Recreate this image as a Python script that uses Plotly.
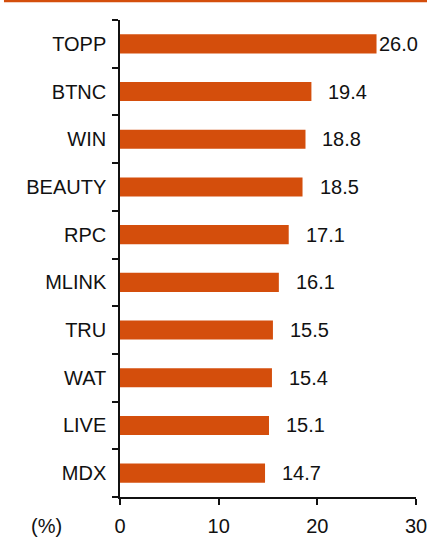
import plotly.graph_objects as go

categories = ["TOPP", "BTNC", "WIN", "BEAUTY", "RPC", "MLINK", "TRU", "WAT", "LIVE", "MDX"]
values = [26.0, 19.4, 18.8, 18.5, 17.1, 16.1, 15.5, 15.4, 15.1, 14.7]
x_ticks = [0, 10, 20, 30]
unit_label = "(%)"

BAR = "#D44E0C"
FONT = dict(family="Liberation Sans, Arial, sans-serif", size=20, color="#111111")

fig = go.Figure()
fig.add_trace(go.Bar(
    x=values, y=categories, orientation="h",
    marker=dict(color=BAR, line=dict(width=0)),
    width=0.4, hoverinfo="skip",
))

annotations = []
for c, v in zip(categories, values):
    annotations.append(dict(
        x=v, y=c, xref="x", yref="y", text=f"{v:.1f}", showarrow=False,
        xanchor="left", yanchor="middle", xshift=0 if v > 25 else 15,
        font=FONT,
    ))
annotations.append(dict(
    x=-0.25, y=0, xref="paper", yref="paper", text=unit_label, showarrow=False,
    xanchor="center", yanchor="middle", yshift=-29, borderpad=0, font=FONT,
))

fig.update_layout(
    width=427, height=537,
    margin=dict(l=120, r=11, t=20, b=40, autoexpand=False),
    paper_bgcolor="white", plot_bgcolor="white",
    showlegend=False,
    font=FONT,
    bargap=0.6,
    annotations=annotations,
    shapes=[dict(type="line", xref="paper", yref="paper",
                 x0=-0.392, x1=1.05, y0=1.0398, y1=1.0398,
                 line=dict(color=BAR, width=2.5))],
    xaxis=dict(
        range=[0, 30], tickvals=x_ticks, showgrid=False, zeroline=False,
        showline=True, linecolor="#111111", linewidth=1.5,
        ticks="outside", ticklen=6, tickwidth=1.5, tickcolor="#111111",
        ticklabelstandoff=4, ticklabeloverflow="allow", automargin=False,
        fixedrange=True,
    ),
    yaxis=dict(
        categoryorder="array", categoryarray=categories[::-1],
        showgrid=False, zeroline=False,
        showline=True, linecolor="#111111", linewidth=1.5,
        ticks="outside", ticklen=6, tickwidth=1.5, tickcolor="#111111",
        tickson="boundaries", ticklabelstandoff=8, automargin=False,
        fixedrange=True,
    ),
)

fig.write_html(
    "out.html",
    config={"displayModeBar": False},
    post_script="document.body.style.margin='0';document.body.style.overflow='hidden';",
)
